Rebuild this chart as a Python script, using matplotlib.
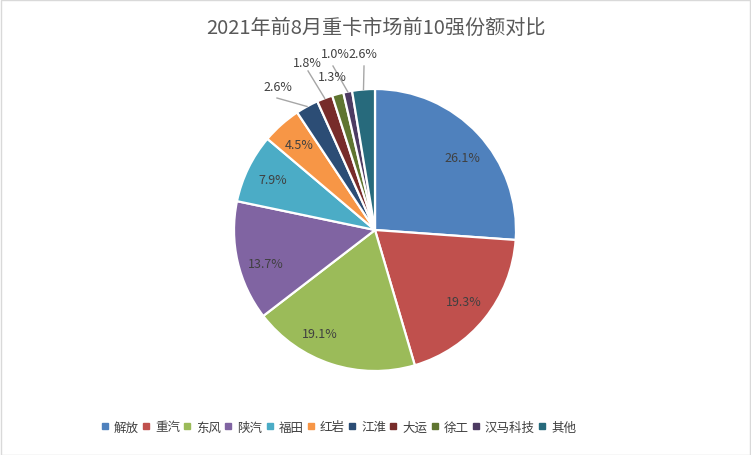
import matplotlib
matplotlib.use("Agg")
import matplotlib.pyplot as plt
from matplotlib.lines import Line2D
import numpy as np

plt.rcParams['font.family'] = ['Noto Sans CJK SC', 'DejaVu Sans']

# ---- data ----
brands = ["解放", "重汽", "东风", "陕汽", "福田", "红岩", "江淮", "大运", "徐工", "汉马科技", "其他"]
shares = [26.1, 19.3, 19.1, 13.7, 7.9, 4.5, 2.6, 1.8, 1.3, 1.0, 2.6]
title = "2021年前8月重卡市场前10强份额对比"

# ---- style ----
colors = ["#4F81BD", "#C0504D", "#9BBB59", "#8064A2", "#4BACC6", "#F79646",
          "#2C4D75", "#772C2A", "#5F7530", "#4D3B62", "#276A7C"]
text_color = "#404040"
# outside-label layout (label position, leader end) in pie-radius units
outside = {
    6: ((-0.688, 1.021), (-0.695, 0.936)),
    7: ((-0.482, 1.191), (-0.475, 1.128)),
    8: ((-0.305, 1.092), None),
    9: ((-0.284, 1.255), (-0.298, 1.163)),
    10: ((-0.085, 1.255), (-0.078, 1.163)),
}
# inside-label overrides (radius factor, angle in degrees)
inside_override = {0: (0.81, 39.7), 2: (0.83, -118.1), 3: (0.81, 196.8)}

W, H = 751, 456
fig = plt.figure(figsize=(W / 100, H / 100), dpi=100)
fig.patch.set_facecolor("white")

# border
fig.add_artist(plt.Rectangle((0.5 / W, 0.5 / H), 1 - 1.5 / W, 1 - 1.5 / H,
                             transform=fig.transFigure, fill=False,
                             edgecolor="#D9D9D9", linewidth=1.0))

cx, cy, r = 375, 231, 141
ax = fig.add_axes([(cx - r) / W, (H - cy - r) / H, 2 * r / W, 2 * r / H])
wedges, _ = ax.pie(shares, colors=colors, startangle=90, counterclock=False,
                   radius=1.0,
                   wedgeprops=dict(edgecolor="white", linewidth=1.6))
ax.set_xlim(-1, 1)
ax.set_ylim(-1, 1)
ax.set_aspect("equal")
ax.axis("off")

for i, (w, v) in enumerate(zip(wedges, shares)):
    mid = np.deg2rad((w.theta1 + w.theta2) / 2)
    lab = f"{v:.1f}%"
    if i in outside:
        pos, end = outside[i]
        if end is not None:
            ax.plot([np.cos(mid) * 1.0, end[0]], [np.sin(mid) * 1.0, end[1]],
                    color="#A6A6A6", linewidth=1.0, clip_on=False)
        ax.text(pos[0], pos[1], lab, ha="center", va="center",
                fontsize=9, color=text_color)
    else:
        rf, ang = inside_override.get(i, (0.81, np.rad2deg(mid)))
        a = np.deg2rad(ang)
        ax.text(rf * np.cos(a), rf * np.sin(a), lab, ha="center",
                va="center", fontsize=9, color=text_color)

fig.text(376 / W, 1 - 28 / H, title, ha="center", va="center",
         fontsize=14.5, color="#595959")

handles = [Line2D([], [], marker="s", linestyle="none", markersize=4.5,
                  markerfacecolor=c, markeredgecolor=c) for c in colors]
fig.legend(handles, brands, loc="center", bbox_to_anchor=(339 / W, 1 - 428 / H),
           ncol=len(brands), frameon=False, fontsize=9, handlelength=0.45,
           handletextpad=0.5, columnspacing=0.35, labelcolor=text_color,
           borderaxespad=0, borderpad=0)

fig.savefig("out.png", dpi=100, facecolor="white")
